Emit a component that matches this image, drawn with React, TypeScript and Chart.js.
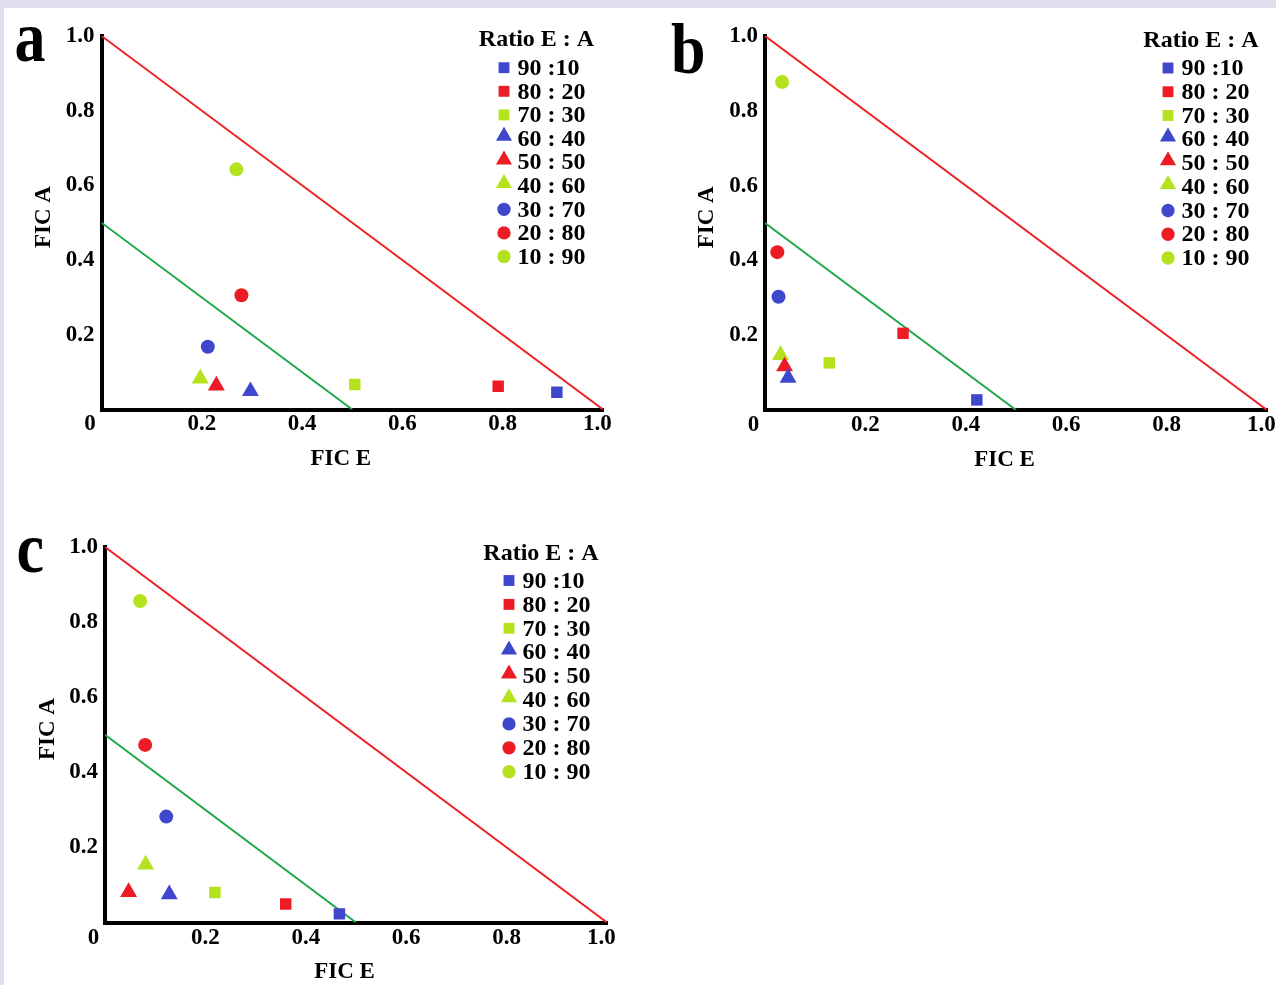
import React, { useEffect, useRef } from 'react';
import { Chart, registerables } from 'chart.js';

Chart.register(...registerables);

// ---------------- data ----------------
const ratioLabels = ['90 :10', '80 : 20', '70 : 30', '60 : 40', '50 : 50', '40 : 60', '30 : 70', '20 : 80', '10 : 90'];
const markerShapes = ['rect', 'rect', 'rect', 'triangle', 'triangle', 'triangle', 'circle', 'circle', 'circle'];

// panel a
const ficE_a = [0.908, 0.791, 0.505, 0.297, 0.229, 0.197, 0.212, 0.279, 0.269];
const ficA_a = [0.046, 0.062, 0.067, 0.049, 0.064, 0.083, 0.168, 0.306, 0.643];
// panel b
const ficE_b = [0.422, 0.275, 0.128, 0.046, 0.039, 0.031, 0.027, 0.0245, 0.034];
const ficA_b = [0.027, 0.205, 0.126, 0.086, 0.117, 0.147, 0.303, 0.422, 0.877];
// panel c
const ficE_c = [0.467, 0.36, 0.219, 0.128, 0.047, 0.081, 0.122, 0.08, 0.07];
const ficA_c = [0.023, 0.049, 0.08, 0.075, 0.081, 0.154, 0.282, 0.473, 0.856];

// reference isoboles (FICI = 1 and FICI = 0.5)
const additiveLine = [{ x: 0, y: 1 }, { x: 1, y: 0 }];
const synergyLine = [{ x: 0, y: 0.5 }, { x: 0.5, y: 0 }];

const axisMin = 0;
const axisMax = 1;
const axisStep = 0.2;

// ---------------- styles ----------------
const BLUE = '#3f48cc';
const RED = '#ed1c24';
const LIME = '#b5e21e';
const markerColors = [BLUE, RED, LIME, BLUE, RED, LIME, BLUE, RED, LIME];
const markerRadius: Record<string, number> = { rect: 8.1, triangle: 9.8, circle: 7 };
const FONT = '"Liberation Serif", "Times New Roman", serif';
const TICK_SIZE = 23;
const TITLE_SIZE = 23;
const LEGEND_SIZE = 24;

type PanelCfg = {
  canvas: { x: number; y: number; w: number; h: number };
  area: { l: number; t: number; r: number; b: number };
  yTitleX: number;
  xTitleY: number;
  xTickPad: number;
  legend: { titleX: number; titleY: number; markerX: number; textX: number; firstY: number; stepY: number };
  ficE: number[];
  ficA: number[];
  letter: string;
  letterX: number;
  letterY: number;
};

const panels: PanelCfg[] = [
  {
    canvas: { x: 4, y: 8, w: 636, h: 484 },
    area: { l: 101.5, t: 36, r: 603, b: 409.5 },
    yTitleX: 44.5,
    xTitleY: 459,
    xTickPad: 1,
    legend: { titleX: 536.5, titleY: 40, markerX: 504, textX: 517.5, firstY: 67.7, stepY: 23.6 },
    ficE: ficE_a,
    ficA: ficA_a,
    letter: 'a',
    letterX: 14.5,
    letterY: 6,
  },
  {
    canvas: { x: 645, y: 8, w: 645, h: 484 },
    area: { l: 765, t: 36, r: 1267, b: 410 },
    yTitleX: 707,
    xTitleY: 460,
    xTickPad: 1,
    legend: { titleX: 1201, titleY: 40.8, markerX: 1168, textX: 1181.5, firstY: 68, stepY: 23.75 },
    ficE: ficE_b,
    ficA: ficA_b,
    letter: 'b',
    letterX: 671,
    letterY: 18,
  },
  {
    canvas: { x: 4, y: 500, w: 636, h: 490 },
    area: { l: 105, t: 547, r: 607, b: 922.5 },
    yTitleX: 48,
    xTitleY: 972,
    xTickPad: 2,
    legend: { titleX: 541, titleY: 553.7, markerX: 509, textX: 522.5, firstY: 580.5, stepY: 23.9 },
    ficE: ficE_c,
    ficA: ficA_c,
    letter: 'c',
    letterX: 16.5,
    letterY: 517,
  },
];

function drawMarker(ctx: CanvasRenderingContext2D, shape: string, r: number, x: number, y: number) {
  ctx.beginPath();
  if (shape === 'circle') {
    ctx.arc(x, y, r, 0, Math.PI * 2);
  } else if (shape === 'rect') {
    const s = r * Math.SQRT1_2;
    ctx.rect(x - s, y - s, 2 * s, 2 * s);
  } else {
    ctx.moveTo(x, y - r);
    ctx.lineTo(x + r * Math.sin((2 * Math.PI) / 3), y + r * 0.5);
    ctx.lineTo(x - r * Math.sin((2 * Math.PI) / 3), y + r * 0.5);
    ctx.closePath();
  }
  ctx.fill();
}

const ratioLegendPlugin = {
  id: 'ratioLegend',
  afterDatasetsDraw(chart: any, _args: any, opts: any) {
    const ctx: CanvasRenderingContext2D = chart.ctx;
    ctx.save();
    ctx.fillStyle = '#000';
    ctx.font = `bold ${LEGEND_SIZE}px ${FONT}`;
    ctx.textBaseline = 'middle';
    ctx.textAlign = 'center';
    ctx.fillText(opts.title, opts.titleX, opts.titleY);
    ctx.textAlign = 'left';
    let i = 0;
    chart.data.datasets.forEach((ds: any) => {
      if (!ds.inLegend) return;
      const y = opts.firstY + i * opts.stepY;
      const shape = ds.pointStyle;
      const r = ds.pointRadius * 0.95;
      ctx.fillStyle = ds.backgroundColor;
      const cy = shape === 'triangle' ? y - r / 4 : y;
      drawMarker(ctx, shape, r, opts.markerX, cy);
      ctx.fillStyle = '#000';
      ctx.fillText(ds.label, opts.textX, y + 1);
      i++;
    });
    ctx.restore();
  },
};

function tickLabel(v: any) {
  const n = Number(v);
  if (n === 0) return '0    ';
  if (n === 1) return '1.0  ';
  return n.toFixed(1);
}

function Panel({ cfg }: { cfg: PanelCfg }) {
  const ref = useRef<HTMLCanvasElement>(null);
  const c = cfg.canvas;
  useEffect(() => {
    const a = cfg.area;
    const tlh = TITLE_SIZE * 1.2;
    const padLeft = cfg.yTitleX - c.x - tlh / 2;
    const yAxisW = a.l - c.x - padLeft;
    const padTop = a.t - c.y;
    const padRight = c.x + c.w - a.r;
    const xAxisBottom = cfg.xTitleY + tlh / 2;
    const padBottom = c.y + c.h - xAxisBottom;
    const xAxisH = xAxisBottom - a.b;

    const pointSets = ratioLabels.map((label, i) => ({
      type: 'scatter' as const,
      label,
      inLegend: true,
      data: [{ x: cfg.ficE[i], y: cfg.ficA[i] }],
      pointStyle: markerShapes[i],
      pointRadius: markerRadius[markerShapes[i]],
      backgroundColor: markerColors[i],
      borderColor: markerColors[i],
      pointBorderWidth: 0,
      order: 1,
    }));
    const lineSets = [
      { type: 'line' as const, label: 'FICI 1', data: additiveLine, borderColor: '#ee2428', borderWidth: 2, pointRadius: 0, fill: false, order: 10 },
      { type: 'line' as const, label: 'FICI 0.5', data: synergyLine, borderColor: '#22a84a', borderWidth: 2, pointRadius: 0, fill: false, order: 10 },
    ];

    const tickFont = { family: FONT, size: TICK_SIZE, weight: 'bold' as const };
    const titleFont = { family: FONT, size: TITLE_SIZE, weight: 'bold' as const };
    const l = cfg.legend;

    const chart = new Chart(ref.current!, {
      type: 'scatter',
      data: { datasets: [...pointSets, ...lineSets] as any },
      options: {
        animation: false,
        responsive: false,
        events: [],
        layout: { padding: { left: padLeft, top: padTop, right: padRight, bottom: padBottom } },
        plugins: {
          legend: { display: false },
          tooltip: { enabled: false },
          ratioLegend: {
            title: 'Ratio E : A',
            titleX: l.titleX - c.x,
            titleY: l.titleY - c.y,
            markerX: l.markerX - c.x,
            textX: l.textX - c.x,
            firstY: l.firstY - c.y,
            stepY: l.stepY,
          },
        } as any,
        scales: {
          x: {
            type: 'linear',
            min: axisMin,
            max: axisMax,
            grid: { display: false, drawTicks: false },
            border: { display: true, color: '#000', width: 4 },
            ticks: {
              stepSize: axisStep,
              autoSkip: false,
              maxRotation: 0,
              padding: cfg.xTickPad,
              color: '#000',
              font: tickFont,
              callback: tickLabel,
            },
            title: { display: true, text: 'FIC E    ', color: '#000', font: titleFont, padding: 0 },
            afterFit: (s: any) => {
              s.height = xAxisH;
            },
          },
          y: {
            type: 'linear',
            min: axisMin,
            max: axisMax,
            grid: { display: false, drawTicks: false },
            border: { display: true, color: '#000', width: 4 },
            ticks: {
              stepSize: axisStep,
              autoSkip: false,
              padding: 7,
              color: '#000',
              font: tickFont,
              callback: (v: any) => (Number(v) === 0 ? '' : Number(v).toFixed(1)),
            },
            title: { display: true, text: '  FIC A', color: '#000', font: titleFont, padding: 0 },
            afterFit: (s: any) => {
              s.width = yAxisW;
            },
          },
        },
      } as any,
      plugins: [ratioLegendPlugin],
    });
    return () => chart.destroy();
  }, []);
  return (
    <>
      <canvas ref={ref} width={c.w} height={c.h} style={{ position: 'absolute', left: c.x, top: c.y }} />
      <div
        style={{
          position: 'absolute',
          left: cfg.letterX,
          top: cfg.letterY,
          font: `bold 62px ${FONT}`,
          lineHeight: '62px',
          color: '#000',
          transform: 'scaleY(1.15)',
          transformOrigin: 'center',
        }}
      >
        {cfg.letter}
      </div>
    </>
  );
}

export default function App() {
  return (
    <div
      style={{
        position: 'fixed',
        left: 0,
        top: 0,
        width: 1276,
        height: 985,
        background: '#e0e0ee',
        overflow: 'hidden',
      }}
    >
      <div style={{ position: 'absolute', left: 4, top: 8, width: 1272, height: 977, background: '#fff' }} />
      {panels.map((p) => (
        <Panel key={p.letter} cfg={p} />
      ))}
    </div>
  );
}
